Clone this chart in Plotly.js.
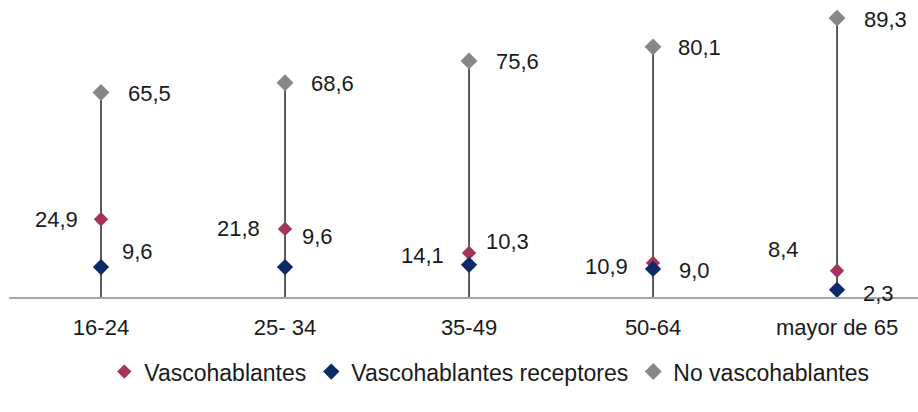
<!DOCTYPE html>
<html>
<head>
<meta charset="utf-8">
<script src="https://cdn.plot.ly/plotly-3.0.1.min.js"></script>
<style>
  html, body { margin: 0; padding: 0; background: #ffffff; }
  #chart { width: 918px; height: 412px; }
</style>
</head>
<body>
<div id="chart"></div>
<script>
// ---- data ----
const categories = ['16-24', '25- 34', '35-49', '50-64', 'mayor de 65'];
const vascohablantes = [24.9, 21.8, 14.1, 10.9, 8.4];
const receptores = [9.6, 9.6, 10.3, 9.0, 2.3];
const noVascohablantes = [65.5, 68.6, 75.6, 80.1, 89.3];
const seriesNames = ['Vascohablantes', 'Vascohablantes receptores', 'No vascohablantes'];

// ---- styles ----
const colors = { vasco: '#a3325c', receptores: '#0c2a6a', noVasco: '#878787', stem: '#262626', axis: '#a6a6a6', text: '#1a1a1a' };
const FONT = 'Liberation Sans, Arial, sans-serif';
const labelSize = 22;
// label offsets in pixels [xshift, yshift, xanchor]
const offVasco = [[-21, 0, 'right'], [-23, 0, 'right'], [-23, -3, 'right'], [-23, -4, 'right'], [-36, 21, 'right']];
const offRecep = [[19, 16, 'left'], [15, 31, 'left'], [15, 23, 'left'], [24, -2, 'left'], [24, -4, 'left']];
const offNoVasco = [[25, -1, 'left'], [24, -1, 'left'], [25, -1, 'left'], [23, -1, 'left'], [25, -1, 'left']];

const fmt = v => v.toFixed(1).replace('.', ',');

// stems from the axis up to the highest value in each category
const stemX = [], stemY = [];
categories.forEach((c, i) => {
  const top = Math.max(vascohablantes[i], receptores[i], noVascohablantes[i]);
  stemX.push(c, c, null);
  stemY.push(0, top, null);
});

const traces = [
  { x: stemX, y: stemY, type: 'scatter', mode: 'lines', line: { color: colors.stem, width: 1.5 }, showlegend: false, hoverinfo: 'skip' },
  { x: categories, y: vascohablantes, name: seriesNames[0], type: 'scatter', mode: 'markers',
    marker: { symbol: 'diamond', size: 11, color: colors.vasco } },
  { x: categories, y: receptores, name: seriesNames[1], type: 'scatter', mode: 'markers',
    marker: { symbol: 'diamond', size: 12.5, color: colors.receptores } },
  { x: categories, y: noVascohablantes, name: seriesNames[2], type: 'scatter', mode: 'markers',
    marker: { symbol: 'diamond', size: 13, color: colors.noVasco } }
];

const annotations = [];
function addLabels(vals, offs) {
  vals.forEach((v, i) => {
    annotations.push({
      x: categories[i], y: v, xref: 'x', yref: 'y', text: fmt(v), showarrow: false,
      xanchor: offs[i][2], yanchor: 'middle', xshift: offs[i][0], yshift: offs[i][1],
      font: { family: FONT, size: labelSize, color: colors.text }
    });
  });
}
addLabels(noVascohablantes, offNoVasco);
addLabels(vascohablantes, offVasco);
addLabels(receptores, offRecep);

const layout = {
  width: 918, height: 412,
  margin: { l: 9, r: 0, t: 5, b: 115 },
  paper_bgcolor: '#ffffff', plot_bgcolor: '#ffffff',
  font: { family: FONT, size: 21, color: colors.text },
  showlegend: true,
  legend: {
    orientation: 'h', xref: 'container', yref: 'container',
    x: 0.533, xanchor: 'center', y: 0.098, yanchor: 'middle',
    font: { family: FONT, size: 23, color: colors.text },
    itemwidth: 30, tracegroupgap: 0
  },
  xaxis: {
    type: 'category', range: [-0.5, 4.44], showgrid: false, zeroline: false,
    showline: true, linecolor: colors.axis, linewidth: 1.5,
    ticks: '', ticklabelstandoff: 10,
    tickfont: { family: FONT, size: 22, color: colors.text }, fixedrange: true
  },
  yaxis: {
    range: [0, 93.5], showgrid: false, zeroline: false, showline: false,
    showticklabels: false, ticks: '', fixedrange: true
  },
  annotations: annotations
};

Plotly.newPlot('chart', traces, layout, { displayModeBar: false, staticPlot: true });
</script>
</body>
</html>
